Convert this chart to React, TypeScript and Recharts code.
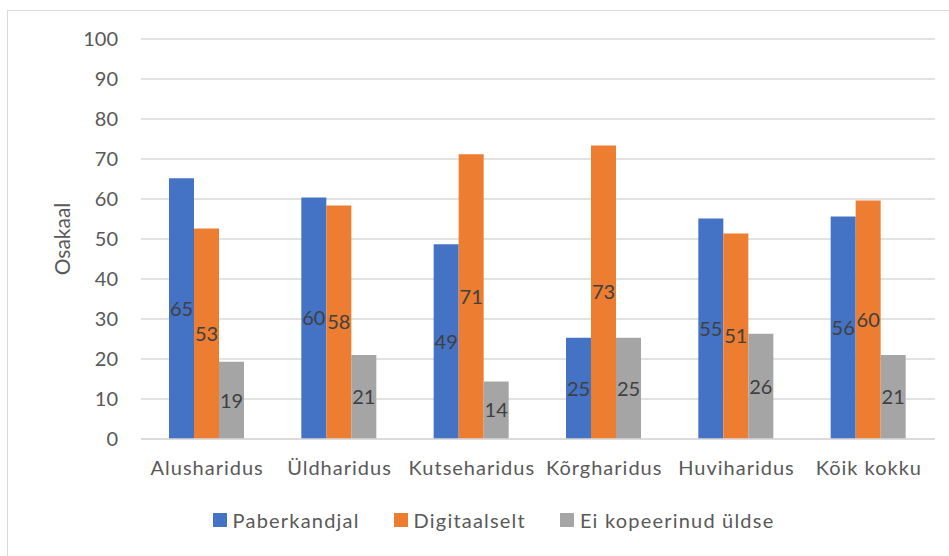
import React from 'react'
import {
  Bar,
  BarChart,
  CartesianGrid,
  LabelList,
  Legend,
  XAxis,
  YAxis,
} from 'recharts'

const categories = [
  'Alusharidus',
  'Üldharidus',
  'Kutseharidus',
  'Kõrgharidus',
  'Huviharidus',
  'Kõik kokku',
]
const paberkandjal = [65.2, 60.4, 48.7, 25.3, 55.1, 55.6]
const digitaalselt = [52.6, 58.4, 71.2, 73.4, 51.4, 59.6]
const eiKopeerinud = [19.3, 21.0, 14.4, 25.3, 26.3, 21.0]
const yTicks = [0, 10, 20, 30, 40, 50, 60, 70, 80, 90, 100]

const series = [
  { key: 'paber', name: 'Paberkandjal', color: '#4472C4' },
  { key: 'digi', name: 'Digitaalselt', color: '#ED7D31' },
  { key: 'ei', name: 'Ei kopeerinud üldse', color: '#A5A5A5' },
]

const data = categories.map((name, i) => ({
  name,
  paber: paberkandjal[i],
  digi: digitaalselt[i],
  ei: eiKopeerinud[i],
}))

const font = 'Lato, "Open Sans", sans-serif'

function ChartLegend() {
  return (
    <div
      style={{
        display: 'flex',
        justifyContent: 'center',
        gap: 34,
        fontFamily: font,
        fontSize: 20,
        letterSpacing: 1.2,
        color: '#595959',
        paddingLeft: 38,
      }}
    >
      {series.map((s) => (
        <div key={s.key} style={{ display: 'flex', alignItems: 'center' }}>
          <span
            style={{
              width: 14,
              height: 14,
              background: s.color,
              display: 'inline-block',
              marginRight: 6,
            }}
          />
          {s.name}
        </div>
      ))}
    </div>
  )
}

export default function App() {
  return (
    <div
      style={{
        position: 'absolute',
        left: 0,
        top: 0,
        width: 949,
        height: 556,
        overflow: 'hidden',
        background: '#fff',
      }}
    >
      <div
        style={{
          position: 'absolute',
          left: 7,
          top: 10,
          width: 980,
          height: 600,
          border: '1px solid #d9d9d9',
        }}
      />
      <BarChart
        width={949}
        height={556}
        data={data}
        margin={{ top: 39, right: 14, left: 0, bottom: 63 }}
        barCategoryGap={28}
        barGap={0}
        style={{ fontFamily: font }}
      >
        <CartesianGrid vertical={false} stroke="#d9d9d9" strokeWidth={1.5} />
        <XAxis
          dataKey="name"
          axisLine={{ stroke: '#d9d9d9', strokeWidth: 1.5 }}
          tickLine={false}
          tickSize={0}
          tickMargin={22}
          tick={{ fill: '#595959', fontSize: 20, letterSpacing: 1 }}
          interval={0}
        />
        <YAxis
          width={141}
          domain={[0, 100]}
          ticks={yTicks}
          axisLine={false}
          tickLine={false}
          tickSize={0}
          tickMargin={23}
          tick={{ fill: '#595959', fontSize: 20 }}
          label={{
            value: 'Osakaal',
            content: ({ viewBox }: any) => (
              <text
                x={70}
                y={viewBox.y + viewBox.height / 2}
                transform={`rotate(-90, 70, ${viewBox.y + viewBox.height / 2})`}
                textAnchor="middle"
                fill="#595959"
                fontSize={21}
                fontFamily={font}
              >
                Osakaal
              </text>
            ),
          }}
        />
        <Legend
          content={<ChartLegend />}
          wrapperStyle={{ top: 508, left: 0, width: 949 }}
        />
        {series.map((s) => (
          <Bar
            key={s.key}
            dataKey={s.key}
            name={s.name}
            fill={s.color}
            isAnimationActive={false}
          >
            <LabelList
              dataKey={s.key}
              position="center"
              formatter={(v: any) => Math.round(Number(v))}
              fill="#404040"
              fontSize={20}
            />
          </Bar>
        ))}
      </BarChart>
    </div>
  )
}
